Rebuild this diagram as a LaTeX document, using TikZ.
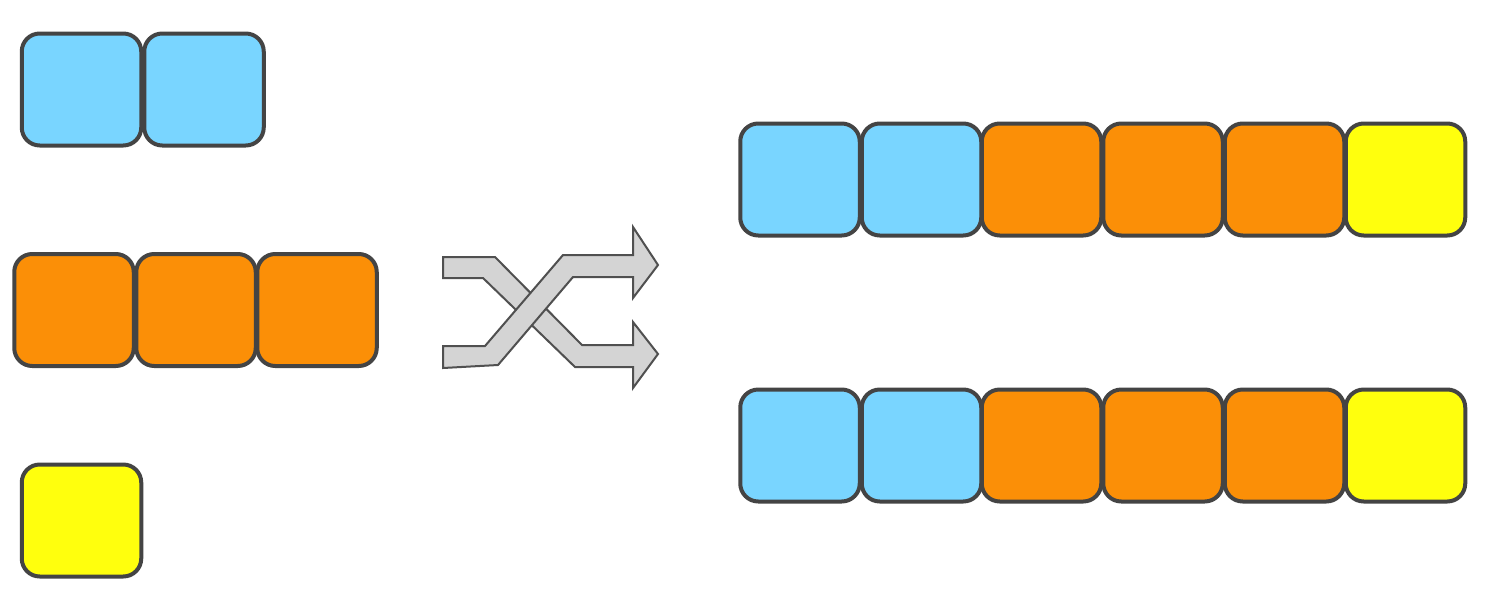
\documentclass[tikz,border=0pt]{standalone}
\definecolor{cblue}{RGB}{121,213,255}
\definecolor{corange}{RGB}{251,143,7}
\definecolor{cyellow}{RGB}{255,255,13}
\definecolor{cstroke}{RGB}{68,68,68}
\definecolor{cshuf}{RGB}{212,212,212}
\definecolor{cshufline}{RGB}{80,80,80}
\begin{document}
\begin{tikzpicture}[x=1pt,y=-1pt,
  cell/.style={draw=cstroke, line width=4pt, rounded corners=18pt, inner sep=0pt,
    minimum width=119.5pt, minimum height=112pt},
  bcell/.style={cell, fill=cblue},
  ocell/.style={cell, fill=corange},
  ycell/.style={cell, fill=cyellow},
  shuf/.style={fill=cshuf, draw=cshufline, line width=2pt, line join=miter}]
\useasboundingbox (0,0) rectangle (1492,606);
\fill[white] (0,0) rectangle (1492,606);
% left groups
\node[bcell] (b1) at (81.5,89.5) {};
\node[bcell] (b2) at (204,89.5) {};
\node[ocell] (o1) at (74,310) {};
\node[ocell] (o2) at (196,310) {};
\node[ocell] (o3) at (317,310) {};
\node[ycell] (y1) at (81.5,520.5) {};
% right rows
\foreach \r/\yy in {t/179.5, u/445.5}{
  \node[bcell] (\r1) at (800,\yy) {};
  \node[bcell] (\r2) at (921.5,\yy) {};
  \node[ocell] (\r3) at (1041.5,\yy) {};
  \node[ocell] (\r4) at (1163,\yy) {};
  \node[ocell] (\r5) at (1284.5,\yy) {};
  \node[ycell] (\r6) at (1405.5,\yy) {};
}
% shuffle symbol: top-left to bottom-right (below)
\draw[shuf] (443,257) -- (495,257) -- (582,345) -- (633,345) -- (633,322) -- (658,354)
  -- (633,388) -- (633,367) -- (575,367) -- (483,278) -- (443,278) -- cycle;
% bottom-left to top-right (on top)
\draw[shuf] (443,346) -- (485,346) -- (563,255) -- (633,255) -- (633,227) -- (658,265)
  -- (633,298) -- (633,277) -- (573,277) -- (498,365) -- (443,368) -- cycle;
\end{tikzpicture}
\end{document}
